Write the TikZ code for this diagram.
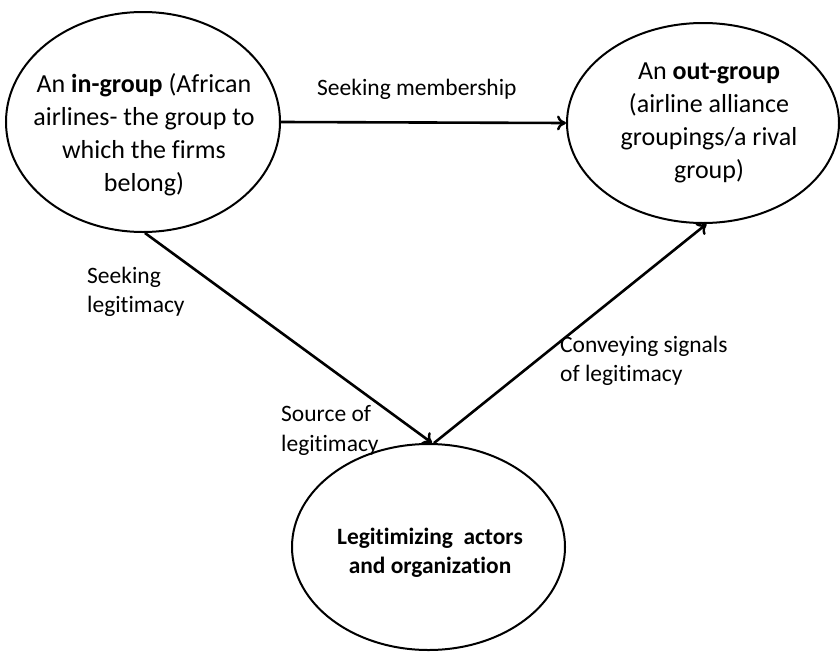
\documentclass[tikz,border=0pt]{standalone}
\usepackage{fontspec}
\setmainfont[Ligatures=NoCommon]{Carlito}
\usetikzlibrary{shapes.geometric,arrows.meta}
\begin{document}
\begin{tikzpicture}[x=1pt,y=-1pt,
  grp/.style={ellipse,draw=black,line width=2pt,inner sep=0pt},
  gtext/.style={align=center,inner sep=0pt,font=\fontsize{26}{33}\selectfont},
  lbl/.style={align=left,anchor=base west,inner sep=0pt,font=\fontsize{23.5}{29.5}\selectfont},
  arr/.style={line width=2.6pt,-{To[length=9pt,width=15pt,line width=2.4pt]}}]
\useasboundingbox (0,0) rectangle (840,653);
\node[grp,minimum width=274pt,minimum height=220pt] (in) at (143,122) {};
\node[grp,minimum width=272pt,minimum height=200pt] (out) at (703,123) {};
\node[grp,minimum width=273pt,minimum height=206pt] (bot) at (428.5,547) {};
\node[gtext] (intext) at (144,135)
  {An \textbf{in-group} (African\\airlines- the group to\\which the firms\\belong)};
\node[gtext] (outtext) at (709,123)
  {An \textbf{out-group}\\(airline alliance\\groupings/a rival\\group)};
\node[gtext,font=\fontsize{23.4}{29}\bfseries\selectfont] (bottext) at (430,553)
  {Legitimizing\ \ actors\\and organization};
\draw[arr] (in.east) -- (out.west);
\draw[arr] (in.-89) -- (bot.88);
\draw[arr] (bot.87) -- (out.-88);
\node[lbl] (l1) at (317,95) {Seeking membership};
\node[lbl] (l2) at (87,312.5) {Seeking\\legitimacy};
\node[lbl] (l3) at (281,451) {Source of\\legitimacy};
\node[lbl] (l4) at (560,381.5) {Conveying signals\\of legitimacy};
\end{tikzpicture}
\end{document}
